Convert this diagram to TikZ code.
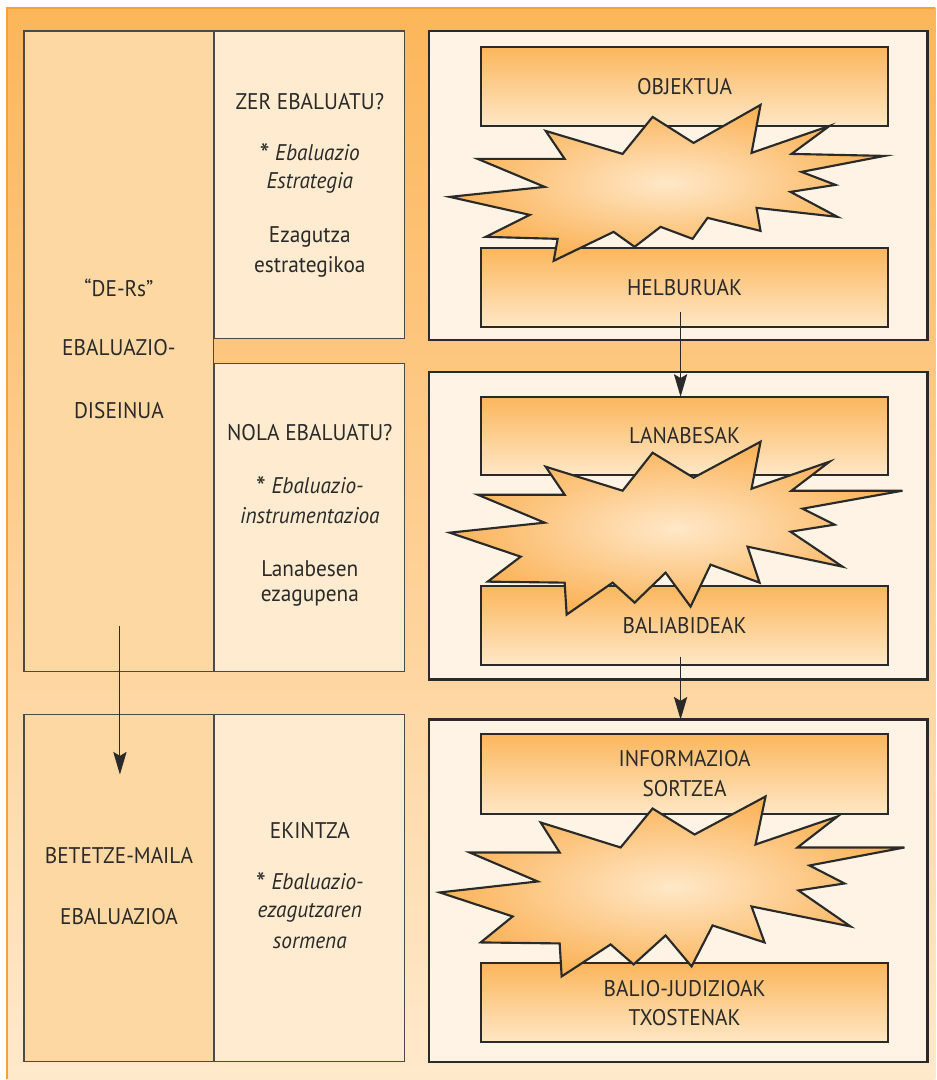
\documentclass[tikz,border=0pt]{standalone}
\usepackage{fontspec}
\setmainfont{PT Sans}[FakeStretch=0.94]
\usetikzlibrary{arrows.meta}
\definecolor{bgtop}{HTML}{FCB65A}
\definecolor{bgbot}{HTML}{FFE9CC}
\definecolor{bgedge}{HTML}{F8A22E}
\definecolor{leftfill}{HTML}{FED8A2}
\definecolor{midfill}{HTML}{FEEBD0}
\definecolor{outfill}{HTML}{FEF3E4}
\definecolor{boxtop}{HTML}{FBB65C}
\definecolor{boxbot}{HTML}{FFE7C6}
\definecolor{starin}{HTML}{FFE8C8}
\definecolor{starout}{HTML}{FBB359}
\definecolor{ink}{HTML}{2A2A2A}
\newcommand{\bigast}{\raisebox{-3pt}{\upshape\fontsize{22}{20}\selectfont*}}
\begin{document}
\begin{tikzpicture}[x=0.75pt,y=-0.75pt,
  every node/.style={inner sep=0pt, outer sep=0pt},
  lbox/.style={draw=ink!85, line width=0.8pt, fill=leftfill, minimum width=142.5pt},
  mbox/.style={draw=ink!85, line width=0.8pt, fill=midfill, minimum width=142.5pt},
  obox/.style={draw=ink, line width=1.7pt, fill=outfill, minimum width=374.25pt},
  ibox/.style={draw=ink, line width=1.5pt, top color=boxtop, bottom color=boxbot, minimum width=306pt},
  star/.style={draw=ink, line width=1.6pt, inner color=starin, outer color=starout, line join=miter},
  txt/.style={font=\fontsize{17}{20}\selectfont, text=ink},
  itxt/.style={font=\fontsize{17}{20}\selectfont\itshape, text=ink},
  ctxt/.style={font=\fontsize{17}{22}\selectfont, text=ink, align=center},
  arr/.style={draw=ink, line width=0.75pt, -{Stealth[length=17pt,width=10pt,inset=3pt]}}
]
% page
\fill[white] (0,0) rectangle (936,1080);
\shade[top color=bgtop, bottom color=bgbot] (7,8) rectangle (936,1080);
\draw[bgedge, line width=1pt] (7,1080) -- (7,8) -- (936,8);

% left and middle columns
\node[lbox, minimum height=480.75pt] (L1) at (119,351.5) {};
\node[mbox, minimum height=231pt] (Z) at (310,185) {};
\node[mbox, minimum height=231pt] (N) at (310,518) {};
\node[lbox, minimum height=260.25pt] (L2) at (119,888.5) {};
\node[mbox, minimum height=260.25pt] (E) at (310,888.5) {};

% right outer boxes
\node[obox, minimum height=231.75pt] (O1) at (678.5,185.5) {};
\node[obox, minimum height=231pt] (O2) at (678.5,526) {};
\node[obox, minimum height=257.25pt] (O3) at (678.5,891.5) {};

% inner boxes
\node[ibox, minimum height=59.25pt] (obj) at (685,86.5) {};
\node[ibox, minimum height=59.25pt] (hel) at (685,287.5) {};
\node[ibox, minimum height=58.5pt] (lan) at (685,436) {};
\node[ibox, minimum height=59.25pt] (bal) at (685,625.5) {};
\node[ibox, minimum height=60pt] (inf) at (685,774) {};
\node[ibox, minimum height=59.25pt] (bj) at (685,1003.5) {};

% starbursts
\path[star] (478,159) -- (545,187) -- (450,197) -- (530,215) -- (486,237) -- (558,239) -- (554,261) -- (614,232) -- (635,247) -- (661,227) -- (693,239) -- (708,218) -- (761,231) -- (757,208) -- (838,217) -- (791,192) -- (836,185) -- (802,172) -- (885,156) -- (792,154) -- (830,126) -- (752,153) -- (761,105) -- (694,143) -- (653,117) -- (623,154) -- (546,131) -- (565,159) -- cycle;
\path[star] (478,495) -- (545,523) -- (450,533) -- (521,557) -- (488,582) -- (565,583) -- (567,615) -- (613,583) -- (635,603) -- (666,573) -- (691,607) -- (711,565) -- (760,583) -- (748,547) -- (843,567) -- (791,532) -- (835,525) -- (803,509) -- (903,491) -- (792,491) -- (830,462) -- (752,489) -- (761,442) -- (694,478) -- (653,453) -- (623,491) -- (546,467) -- (565,495) -- cycle;
\path[star] (470,853) -- (538,882) -- (440,893) -- (513,917) -- (481,943) -- (560,944) -- (562,977) -- (611,945) -- (634,965) -- (666,936) -- (692,967) -- (713,926) -- (765,943) -- (752,907) -- (851,927) -- (799,891) -- (845,884) -- (810,866) -- (905,848) -- (798,848) -- (838,817) -- (756,845) -- (766,797) -- (695,835) -- (653,809) -- (621,848) -- (541,823) -- (560,853) -- cycle;

% inner box labels
\node[ctxt] (objt) at (obj.center) {OBJEKTUA};
\node[ctxt] (helt) at (hel.center) {HELBURUAK};
\node[ctxt] (lant) at (lan.center) {LANABESAK};
\node[ctxt] (balt) at (bal.center) {BALIABIDEAK};
\node[ctxt] (inft) at (inf.center) {INFORMAZIOA\\SORTZEA};
\node[ctxt] (bjt) at (bj.center) {BALIO-JUDIZIOAK\\TXOSTENAK};

% left column labels
\node[txt] (d1) at (119,288) {“DE-Rs”};
\node[txt] (d2) at (119,348) {EBALUAZIO-};
\node[txt] (d3) at (119,411) {DISEINUA};
\node[txt] (b1) at (119,856) {BETETZE-MAILA};
\node[txt] (b2) at (119,917) {EBALUAZIOA};

% middle column labels
\node[txt] (z1) at (310,102) {ZER EBALUATU?};
\node[itxt, anchor=base] (z2) at (310,161) {\bigast\ Ebaluazio};
\node[itxt] (z3) at (310,183) {Estrategia};
\node[txt] (z4) at (310,237) {Ezagutza};
\node[txt] (z5) at (310,267) {estrategikoa};

\node[txt] (n1) at (310,433) {NOLA EBALUATU?};
\node[itxt, anchor=base] (n2) at (310,494) {\bigast\ Ebaluazio-};
\node[itxt] (n3) at (310,516) {instrumentazioa};
\node[txt] (n4) at (310,569) {Lanabesen};
\node[txt] (n5) at (310,598) {ezagupena};

\node[txt] (e1) at (310,831) {EKINTZA};
\node[itxt, anchor=base] (e2) at (310,890) {\bigast\ Ebaluazio-};
\node[itxt] (e3) at (310,913) {ezagutzaren};
\node[itxt] (e4) at (310,943) {sormena};

% arrows
\coordinate (a1s) at (681,312);
\coordinate (a2s) at (681,657);
\coordinate (a3s) at (120,626);
\coordinate (a3e) at (120,775);
\draw[arr] (a1s) -- (a1s |- lan.north);
\draw[arr] (a2s) -- (a2s |- O3.north);
\draw[arr] (a3s) -- (a3e);
\end{tikzpicture}
\end{document}
